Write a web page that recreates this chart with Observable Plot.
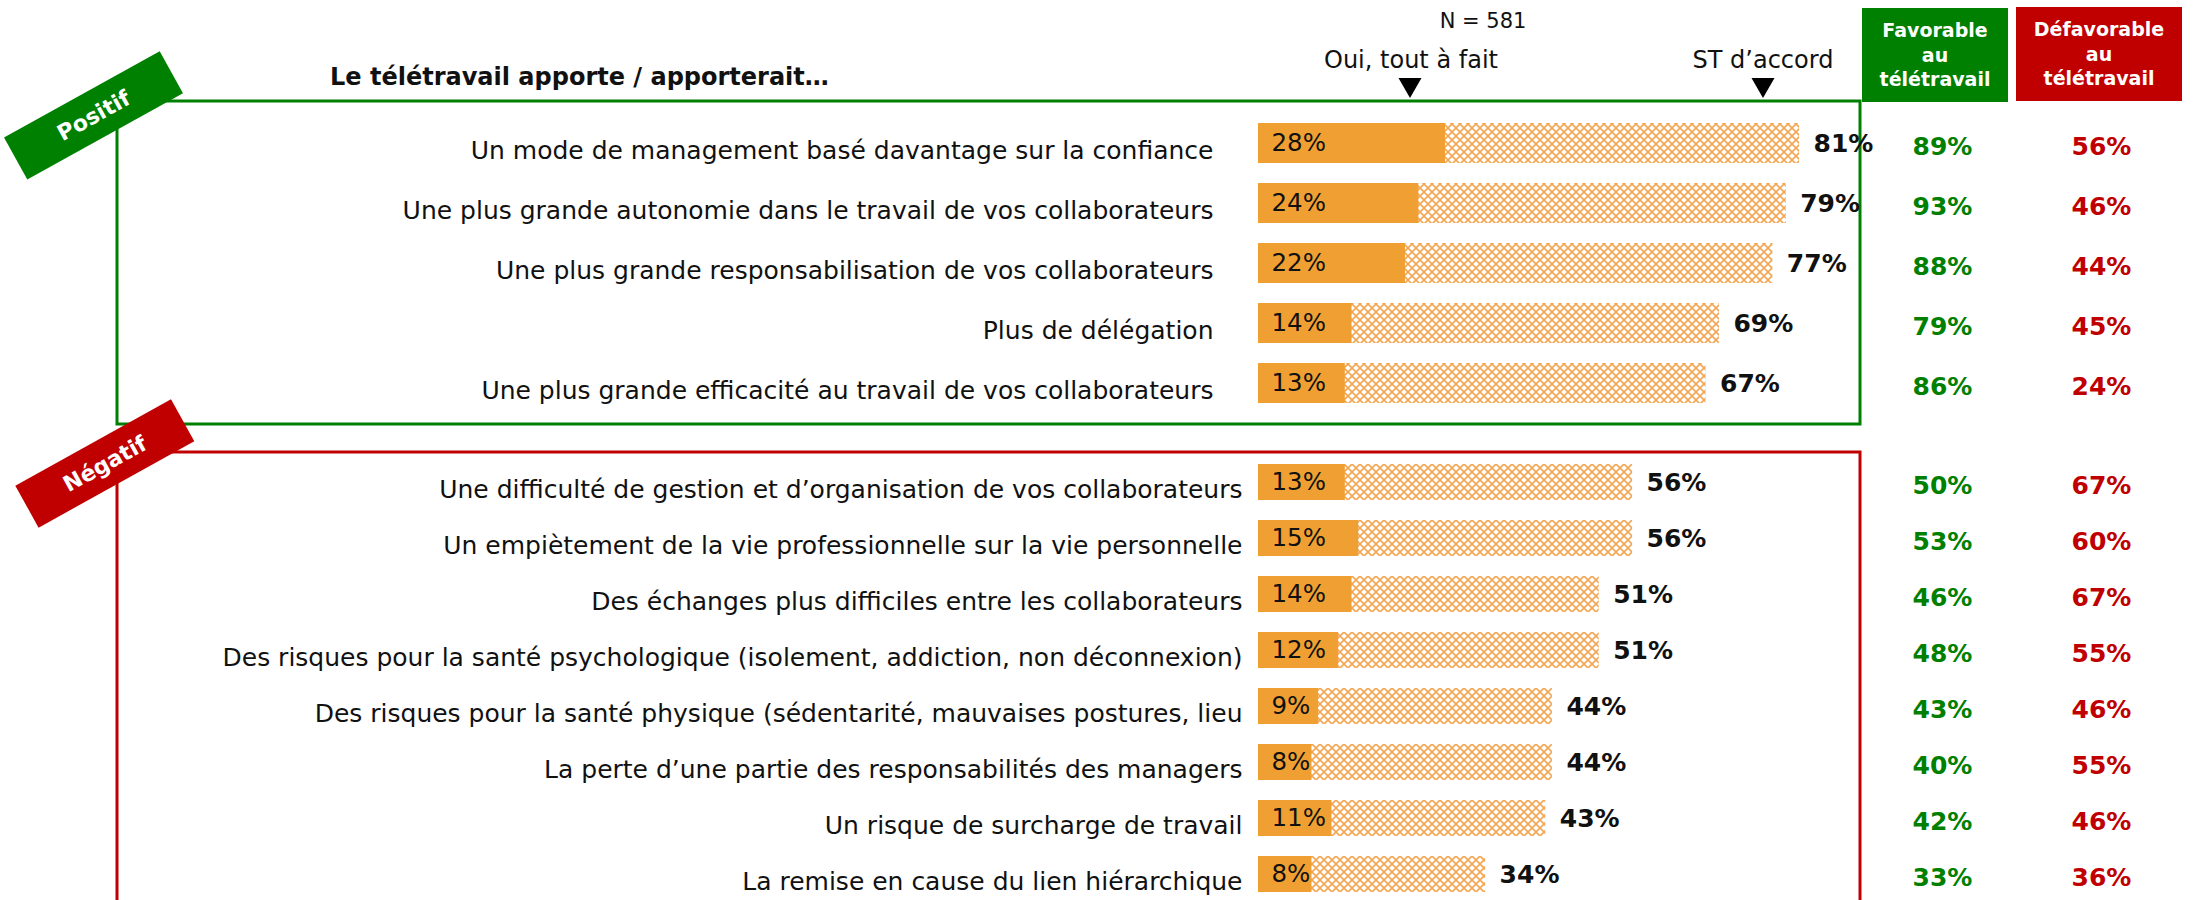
<!DOCTYPE html>
<html>
<head>
<meta charset="utf-8">
<script src="https://cdn.jsdelivr.net/npm/d3@7"></script>
<script src="https://cdn.jsdelivr.net/npm/@observablehq/plot@0.6"></script>
<style>
  html, body { margin: 0; padding: 0; background: white; overflow: hidden; }
  #c { position: relative; width: 2196px; height: 900px; overflow: hidden; background: white; font-family: "DejaVu Sans", sans-serif; }
  #c svg { position: absolute; left: 0; }
</style>
</head>
<body>
<div id="c">
  <svg width="0" height="0" style="position:absolute">
    <defs>
      <pattern id="hatch" width="8" height="8" patternUnits="userSpaceOnUse">
        <rect width="8" height="8" fill="white"/>
        <path d="M0,0L8,8M8,0L0,8" stroke="#F4A552" stroke-width="1.6"/>
      </pattern>
    </defs>
  </svg>
</div>
<script>
// ---- Data ----
const posLabels = [
  "Un mode de management basé davantage sur la confiance",
  "Une plus grande autonomie dans le travail de vos collaborateurs",
  "Une plus grande responsabilisation de vos collaborateurs",
  "Plus de délégation",
  "Une plus grande efficacité au travail de vos collaborateurs"
];
const posTout = [28, 24, 22, 14, 13];
const posST = [81, 79, 77, 69, 67];
const posFav = [89, 93, 88, 79, 86];
const posDef = [56, 46, 44, 45, 24];

const negLabels = [
  "Une difficulté de gestion et d’organisation de vos collaborateurs",
  "Un empiètement de la vie professionnelle sur la vie personnelle",
  "Des échanges plus difficiles entre les collaborateurs",
  "Des risques pour la santé psychologique (isolement, addiction, non déconnexion)",
  "Des risques pour la santé physique (sédentarité, mauvaises postures, lieu",
  "La perte d’une partie des responsabilités des managers",
  "Un risque de surcharge de travail",
  "La remise en cause du lien hiérarchique"
];
const negTout = [13, 15, 14, 12, 9, 8, 11, 8];
const negST = [56, 56, 51, 51, 44, 44, 43, 34];
const negFav = [50, 53, 46, 48, 43, 40, 42, 33];
const negDef = [67, 60, 67, 55, 46, 55, 46, 36];

const headerTitle = "Le télétravail apporte / apporterait…";
const sampleText = "N = 581";
const colTout = "Oui, tout à fait";
const colST = "ST d’accord";
const favHeader = ["Favorable", "au", "télétravail"];
const defHeader = ["Défavorable", "au", "télétravail"];

const GREEN = "#008000", RED = "#C00000", ORANGE = "#F0A032";

function rows(labels, tout, st, fav, def) {
  return labels.map((label, i) => ({label, tout: tout[i], st: st[i], fav: fav[i], def: def[i]}));
}

function makePlot(data, {top, height, marginTop, marginBottom, padInner, labelPad}) {
  const p = Plot.plot({
    width: 2196,
    height,
    marginLeft: 1258,
    marginRight: 270,
    marginTop,
    marginBottom,
    x: {domain: [0, 100], axis: null},
    y: {domain: data.map(d => d.label), axis: null, paddingInner: padInner, paddingOuter: padInner / 2},
    style: {background: "transparent", fontFamily: "DejaVu Sans", fontSize: "24px", overflow: "visible", color: "#111"},
    marks: [
      Plot.barX(data, {x: "st", y: "label", fill: "url(#hatch)"}),
      Plot.barX(data, {x: "tout", y: "label", fill: ORANGE}),
      Plot.text(data, {x: 0, y: "label", text: d => d.tout + "%", textAnchor: "start", dx: 13, fontSize: 24.5, fill: "#111"}),
      Plot.text(data, {x: "st", y: "label", text: d => d.st + "%", textAnchor: "start", dx: 14, fontSize: 25, fontWeight: "bold", fill: "#111"}),
      Plot.text(data, {y: "label", text: "label", frameAnchor: "left", textAnchor: "end", dx: -labelPad, dy: 7, fontSize: 25, fill: "#111"}),
      Plot.text(data, {y: "label", text: d => d.fav + "%", frameAnchor: "right", textAnchor: "middle", dx: 16, dy: 3, fontSize: 25, fontWeight: "bold", fill: GREEN}),
      Plot.text(data, {y: "label", text: d => d.def + "%", frameAnchor: "right", textAnchor: "middle", dx: 175, dy: 3, fontSize: 25, fontWeight: "bold", fill: RED})
    ]
  });
  p.style.top = top + "px";
  p.style.left = "0px";
  p.style.position = "absolute";
  return p;
}

const c = document.getElementById("c");

const ns = "http://www.w3.org/2000/svg";
function el(name, attrs, parent, text) {
  const e = document.createElementNS(ns, name);
  for (const k in attrs) e.setAttribute(k, attrs[k]);
  if (text != null) e.textContent = text;
  if (parent) parent.appendChild(e);
  return e;
}
// Frames (behind plots)
const back = el("svg", {width: 2196, height: 900, style: "position:absolute;left:0;top:0"}, c);
el("rect", {x: 117, y: 101, width: 1743, height: 323, fill: "none", stroke: GREEN, "stroke-width": 3}, back);
el("rect", {x: 117, y: 452, width: 1743, height: 600, fill: "none", stroke: RED, "stroke-width": 3}, back);

c.appendChild(makePlot(rows(posLabels, posTout, posST, posFav, posDef),
  {top: 0, height: 430, marginTop: 111.75, marginBottom: 15.75, padInner: 0.34, labelPad: 45}));
c.appendChild(makePlot(rows(negLabels, negTout, negST, negFav, negDef),
  {top: 440, height: 480, marginTop: 10.57, marginBottom: 14.57, padInner: 0.35, labelPad: 16}));

// Foreground decorations
const fg = el("svg", {width: 2196, height: 900, style: "position:absolute;left:0;top:0", "font-family": "DejaVu Sans"}, c);
el("text", {x: 330, y: 85, "font-size": 24, "font-weight": "bold", fill: "#111"}, fg, headerTitle);
el("text", {x: 1483, y: 28, "font-size": 21, "text-anchor": "middle", fill: "#111"}, fg, sampleText);
el("text", {x: 1411, y: 68, "font-size": 24, "text-anchor": "middle", fill: "#111"}, fg, colTout);
el("text", {x: 1763, y: 68, "font-size": 24, "text-anchor": "middle", fill: "#111"}, fg, colST);
for (const cx of [1410, 1763]) {
  el("path", {d: `M${cx - 11.5},78L${cx + 11.5},78L${cx},98Z`, fill: "#000"}, fg);
}
// header boxes
el("rect", {x: 1862, y: 8, width: 146, height: 94, fill: GREEN}, fg);
el("rect", {x: 2016, y: 7, width: 166, height: 94, fill: RED}, fg);
favHeader.forEach((t, i) => el("text", {x: 1935, y: 37 + i * 24.7, "font-size": 19, "font-weight": "bold", "text-anchor": "middle", fill: "white"}, fg, t));
defHeader.forEach((t, i) => el("text", {x: 2099, y: 36 + i * 24.7, "font-size": 19, "font-weight": "bold", "text-anchor": "middle", fill: "white"}, fg, t));
// rotated tags
function tag(cx, cy, color, label) {
  const g = el("g", {transform: `translate(${cx},${cy}) rotate(-29)`}, fg);
  el("rect", {x: -89, y: -24, width: 178, height: 48, fill: color}, g);
  el("text", {x: 0, y: 0, dy: "0.36em", "font-size": 22, "font-weight": "bold", "text-anchor": "middle", fill: "white"}, g, label);
}
tag(93.5, 115.3, GREEN, "Positif");
tag(104.8, 463.5, RED, "Négatif");
</script>
</body>
</html>
